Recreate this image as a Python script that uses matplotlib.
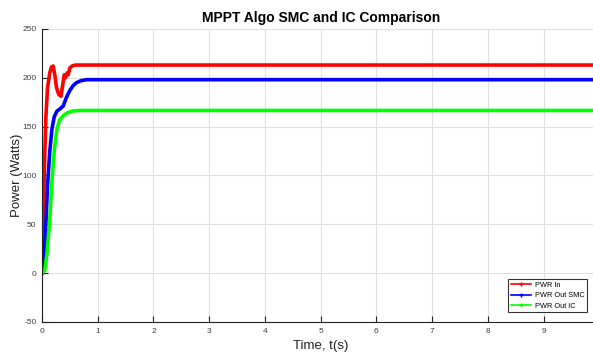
import matplotlib.pyplot as plt
import numpy as np

plt.rcParams['font.family'] = ['Liberation Sans', 'DejaVu Sans']
plt.rcParams['axes.unicode_minus'] = False

# time points (s) and power (W)
t_in = [0, 0.02, 0.04, 0.07, 0.10, 0.14, 0.17, 0.20, 0.23, 0.26, 0.30, 0.34, 0.37, 0.40, 0.42, 0.45, 0.47, 0.50, 0.54, 0.60, 0.8, 1.0, 2, 5, 10]
p_in = [0, 30, 100, 160, 190, 205, 211, 212, 203, 190, 183, 181, 192, 203, 200, 205, 203, 210, 212, 213, 213, 213, 213, 213, 213]

t_smc = [0, 0.04, 0.07, 0.10, 0.14, 0.18, 0.22, 0.27, 0.32, 0.38, 0.44, 0.50, 0.56, 0.62, 0.70, 0.80, 0.95, 1.2, 2, 5, 10]
p_smc = [0, 15, 50, 90, 125, 148, 160, 166, 168, 171, 180, 187, 192, 195, 197, 198, 198, 198, 198, 198, 198]

t_ic = [0, 0.05, 0.09, 0.14, 0.18, 0.22, 0.27, 0.32, 0.38, 0.45, 0.55, 0.68, 0.85, 1.2, 2, 5, 10]
p_ic = [0, 3, 20, 55, 95, 125, 148, 157, 161, 164, 166, 166.5, 166.5, 166.5, 166.5, 166.5, 166.5]

x_ticks = list(range(0, 10))
y_ticks = list(range(-50, 251, 50))

fig = plt.figure(figsize=(5.93, 3.54), dpi=100)
ax = fig.add_axes([0.0708, 0.0904, 0.94, 0.828])

ax.plot(t_in, p_in, color='#ff0000', lw=2.6, label='PWR In')
ax.plot(t_smc, p_smc, color='#0000ff', lw=2.6, label='PWR Out SMC')
ax.plot(t_ic, p_ic, color='#00ff00', lw=2.6, label='PWR Out IC')

ax.set_xlim(0, 10)
ax.set_ylim(-50, 250)
ax.set_xticks(x_ticks)
ax.set_yticks(y_ticks)
ax.grid(True, color='#e0e0e0', lw=0.8)
ax.set_axisbelow(True)
for s in ['top', 'right']:
    ax.spines[s].set_visible(False)
ax.spines['left'].set_color('#202020')
ax.spines['bottom'].set_color('#202020')
ax.tick_params(direction='in', length=4, labelsize=6, colors='#202020', labelcolor='#404040', pad=4)

ax.set_title('MPPT Algo SMC and IC Comparison', fontsize=10, fontweight='bold', pad=5)
ax.set_xlabel('Time, t(s)', fontsize=9.5, color='#202020')
ax.set_ylabel('Power (Watts)', fontsize=9.5, color='#202020')
ax.xaxis.set_label_coords(0.5, -0.06)
ax.yaxis.set_label_coords(-0.034, 0.5)

# legend with small plus markers on the lines like the original
h = [plt.Line2D([], [], color=c, lw=1.2, marker='+', markersize=3) for c in ['#ff0000', '#0000ff', '#00ff00']]
leg = ax.legend(h, ['PWR In', 'PWR Out SMC', 'PWR Out IC'], loc='lower right',
                bbox_to_anchor=(0.985, 0.02), fontsize=5.3, frameon=True, fancybox=False,
                edgecolor='black', handlelength=2.8, borderpad=0.35, labelspacing=0.45,
                handletextpad=0.5)
leg.get_frame().set_linewidth(0.8)

fig.savefig('out.png', dpi=100)
